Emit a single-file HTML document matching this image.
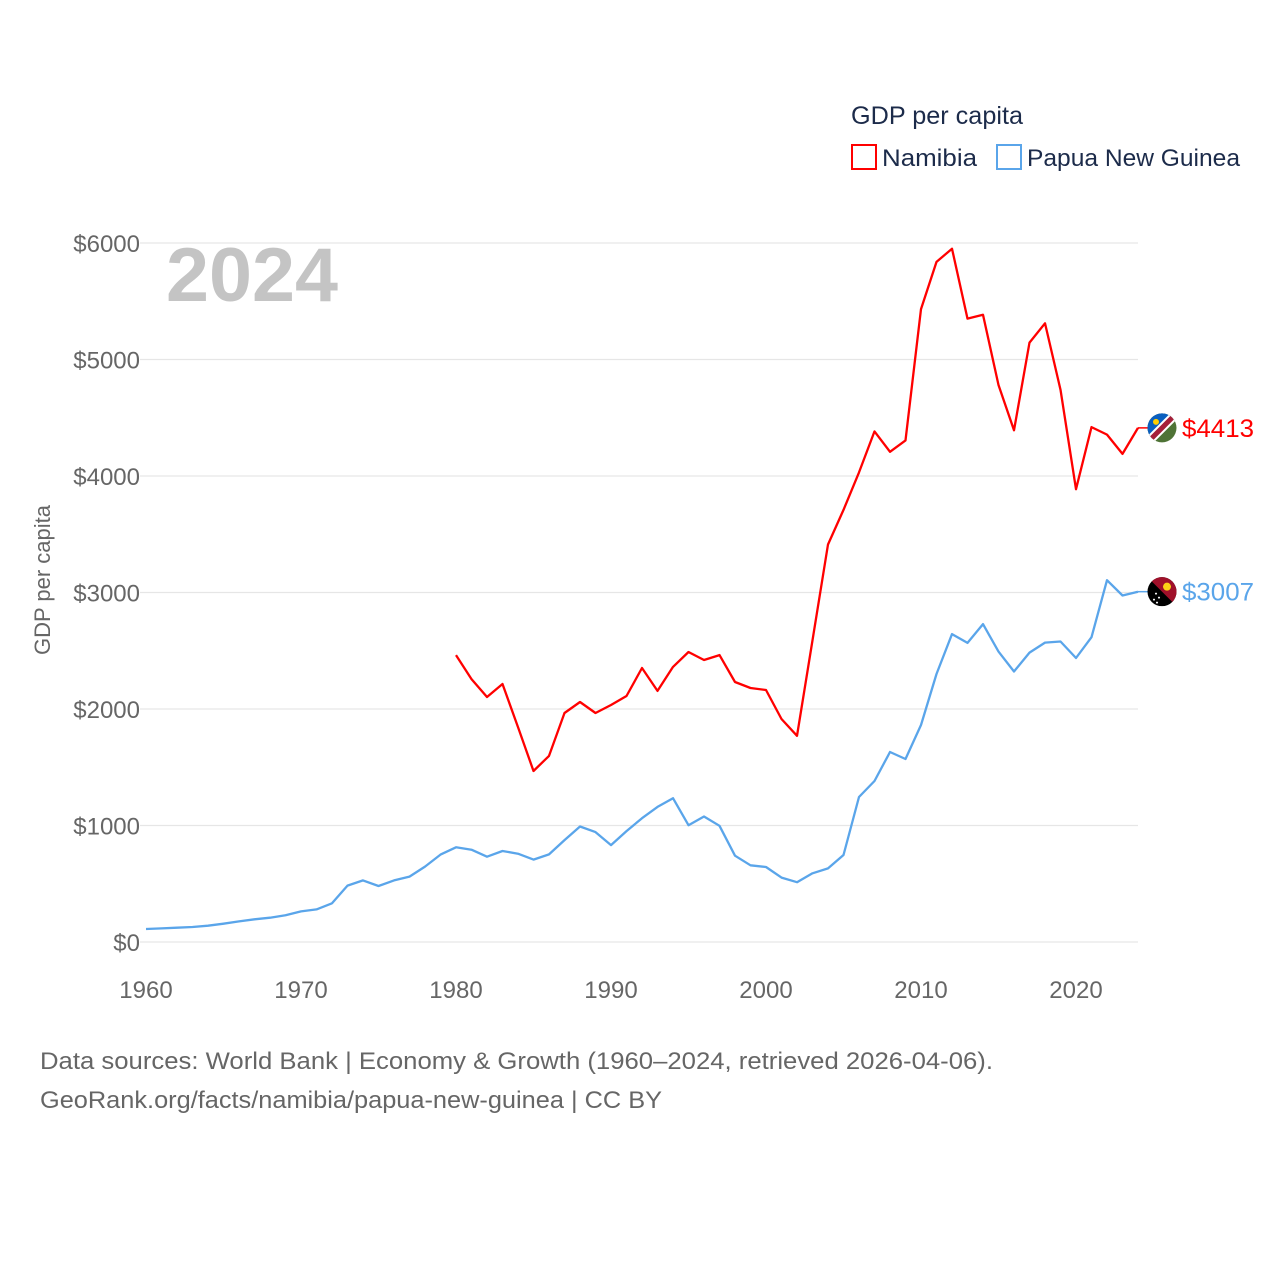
<!DOCTYPE html>
<html><head><meta charset="utf-8"><style>
html,body{margin:0;padding:0;background:#fff}
svg{display:block;font-family:"Liberation Sans",sans-serif}
</style></head><body>
<svg width="1280" height="1280" viewBox="0 0 1280 1280">
<g id="grid"></g>
<g id="yticks"></g>
<g id="xticks"></g>
<text x="166" y="301" font-size="76" font-weight="bold" fill="#c4c4c4" textLength="172" lengthAdjust="spacingAndGlyphs">2024</text>
<text transform="translate(50,580) rotate(-90)" text-anchor="middle" font-size="22" fill="#666">GDP per capita</text>
<g id="lines"></g>
<g id="ends"></g>
<g>
<text x="851" y="124" font-size="25" fill="#1c2b4a" textLength="172" lengthAdjust="spacingAndGlyphs">GDP per capita</text>
<g><rect x="852" y="145" width="24" height="24" fill="none" stroke="#ff0000" stroke-width="2"/><text x="882" y="166" font-size="24" fill="#1c2b4a" textLength="95" lengthAdjust="spacingAndGlyphs">Namibia</text></g>
<g><rect x="997" y="145" width="24" height="24" fill="none" stroke="#5aa5ea" stroke-width="2"/><text x="1027" y="166" font-size="24" fill="#1c2b4a" textLength="213" lengthAdjust="spacingAndGlyphs">Papua New Guinea</text></g>
</g>
<text x="40" y="1069" font-size="24" fill="#666" textLength="953" lengthAdjust="spacingAndGlyphs">Data sources: World Bank | Economy &amp; Growth (1960–2024, retrieved 2026-04-06).</text>
<text x="40" y="1108" font-size="24" fill="#666" textLength="622" lengthAdjust="spacingAndGlyphs">GeoRank.org/facts/namibia/papua-new-guinea | CC BY</text>
</svg>
<script>
const yTicks=[0,1000,2000,3000,4000,5000,6000];
const xTicks=[1960,1970,1980,1990,2000,2010,2020];
const namYears=[1980,1981,1982,1983,1984,1985,1986,1987,1988,1989,1990,1991,1992,1993,1994,1995,1996,1997,1998,1999,2000,2001,2002,2003,2004,2005,2006,2007,2008,2009,2010,2011,2012,2013,2014,2015,2016,2017,2018,2019,2020,2021,2022,2023,2024];
const namibia=[2463,2257,2103,2215,1845,1468,1597,1966,2060,1966,2034,2112,2352,2155,2361,2489,2421,2463,2232,2180,2163,1914,1770,2590,3412,3709,4031,4383,4208,4306,5433,5838,5951,5351,5384,4781,4392,5145,5311,4741,3887,4420,4355,4190,4413];
const pngYears=[];for(let y=1960;y<=2024;y++)pngYears.push(y);
const png=[112,117,123,129,140,157,177,195,209,229,263,280,332,484,529,481,529,561,647,750,813,792,732,781,758,707,752,875,991,943,832,952,1063,1160,1234,1003,1077,997,741,658,644,553,513,590,632,747,1245,1382,1631,1571,1863,2300,2643,2567,2729,2493,2322,2484,2570,2579,2438,2616,3106,2974,3007];
const X=y=>146+(y-1960)*15.5;
const Y=v=>942-v*0.1165;
const NS="http://www.w3.org/2000/svg";
function mk(t,a,p){const e=document.createElementNS(NS,t);for(const k in a)e.setAttribute(k,a[k]);p.appendChild(e);return e;}
const grid=document.getElementById('grid'),yt=document.getElementById('yticks'),xt=document.getElementById('xticks');
yTicks.forEach(v=>{
 const l=mk('line',{x1:140,x2:1138,y1:Y(v),y2:Y(v),stroke:'#e6e6e6','stroke-width':1.3},grid);
 
 
 const t=mk('text',{x:140,y:Y(v)+9,'text-anchor':'end','font-size':24,fill:'#666'},yt);
 t.textContent='$'+v;
 
 
});
xTicks.forEach(v=>{
 const t=mk('text',{x:X(v),y:998,'text-anchor':'middle','font-size':24,fill:'#666'},xt);
 t.textContent=v;
 
 
});
const lines=document.getElementById('lines');
function series(yrs,vals,col,name){
 const d=yrs.map((y,i)=>(i?'L':'M')+X(y).toFixed(1)+' '+Y(vals[i]).toFixed(1)).join(' ');
 const p=mk('path',{d:d,fill:'none',stroke:col,'stroke-width':2.3,'stroke-linejoin':'round'},lines);
 
 
}
series(pngYears,png,'#5aa5ea','papua-new-guinea');
series(namYears,namibia,'#ff0000','namibia');
const ends=document.getElementById('ends');
function endLabel(v,col,name,flag){
 const y=Y(v),x=X(2024);
 mk('line',{x1:x,x2:1150,y1:y,y2:y,stroke:col,'stroke-width':1.5},ends);
 const g=mk('g',{},ends);
 
 
 const cid='c'+name;
 const cp=mk('clipPath',{id:cid},g);mk('circle',{cx:1162,cy:y,r:14.5},cp);
 const gg=mk('g',{'clip-path':'url(#'+cid+')'},g);
 if(flag==='nam'){
  mk('rect',{x:1147,y:y-15,width:30,height:30,fill:'#4f7336'},gg);
  mk('polygon',{points:`1147,${y-15} 1177,${y-15} 1147,${y+15}`,fill:'#0a5fbf'},gg);
  mk('line',{x1:1178,y1:y-16,x2:1146,y2:y+16,stroke:'#fff','stroke-width':9},gg);
  mk('line',{x1:1178,y1:y-16,x2:1146,y2:y+16,stroke:'#a5203a','stroke-width':5},gg);
  mk('circle',{cx:1156,cy:y-6,r:3,fill:'#ffce00'},gg);
 }else{
  mk('rect',{x:1147,y:y-15,width:30,height:30,fill:'#000'},gg);
  mk('polygon',{points:`1147,${y-15} 1177,${y-15} 1177,${y+15}`,fill:'#a0102a'},gg);
  mk('circle',{cx:1167,cy:y-5,r:4,fill:'#fcd116'},gg);
  [[1156,y+2],[1159,y+6],[1154,y+8],[1157,y+11]].forEach(p=>mk('circle',{cx:p[0],cy:p[1],r:1,fill:'#fff'},gg));
 }
 const t=mk('text',{x:1182,y:y+9,'font-size':25,fill:col,textLength:72,lengthAdjust:'spacingAndGlyphs'},ends);
 t.textContent='$'+v;
 
 
}
endLabel(namibia[namibia.length-1],'#ff0000','namibia','nam');
endLabel(png[png.length-1],'#5aa5ea','papua-new-guinea','png');
</script>
</body></html>
